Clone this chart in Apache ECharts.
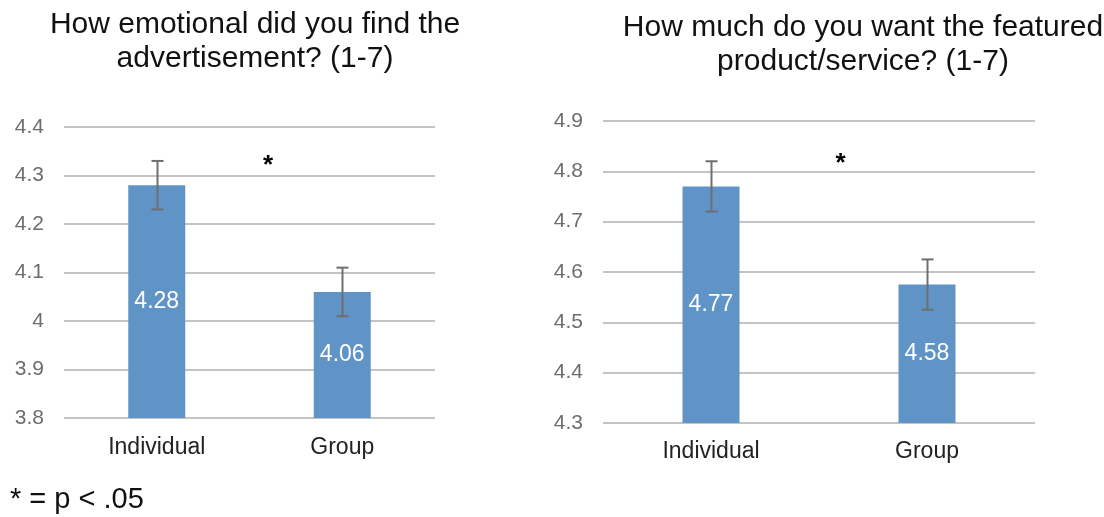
<!DOCTYPE html>
<html><head><meta charset="utf-8">
<script src="https://cdn.jsdelivr.net/npm/echarts@6/dist/echarts.min.js"></script>
<style>html,body{margin:0;padding:0;background:#fff}#c{width:1104px;height:517px}</style>
</head><body><div id="c"></div>
<script>
const categories = ['Individual', 'Group'];
const emotionalMeans = [4.28, 4.06];
const emotionalErr = [0.05, 0.05];
const wantMeans = [4.77, 4.575];
const wantErr = [0.05, 0.05];
const emotionalStar = [0.6, 4.33];
const wantStar = [0.6, 4.825];
const titles = ['How emotional did you find the\nadvertisement? (1-7)', 'How much do you want the featured\nproduct/service? (1-7)'];
const footnote = '* = p < .05';

const FONT = 'Liberation Sans, Arial, Helvetica, sans-serif';
const BAR = '#6094c7';
const ERR = '#6e6e6e';
const GRID = '#c4c4c4';

function yAxis(idx, min, max) {
  return {
    type: 'value', gridIndex: idx, min: min, max: max, interval: 0.1,
    axisLine: {show: false}, axisTick: {show: false},
    axisLabel: {color: '#6b6e6b', fontSize: 21, fontFamily: FONT, margin: 20},
    splitLine: {lineStyle: {color: GRID, width: 2}}
  };
}
function xAxis(idx, margin) {
  return {
    type: 'category', gridIndex: idx, data: categories,
    axisLine: {show: false}, axisTick: {show: false},
    axisLabel: {color: '#222', fontSize: 23, fontFamily: FONT, margin: margin}
  };
}
function barSeries(idx, vals) {
  return {
    type: 'bar', xAxisIndex: idx, yAxisIndex: idx, data: vals, barWidth: 57,
    itemStyle: {color: BAR},
    label: {show: true, position: 'inside', color: '#fff', fontSize: 23, fontFamily: FONT,
      formatter: p => p.value.toFixed(2)},
    silent: true
  };
}
function errSeries(idx, vals, errs) {
  return {
    type: 'custom', xAxisIndex: idx, yAxisIndex: idx, silent: true, z: 5,
    data: vals.map((v, i) => [i, v - errs[i], v + errs[i]]),
    renderItem: function (params, api) {
      const lo = api.coord([api.value(0), api.value(1)]);
      const hi = api.coord([api.value(0), api.value(2)]);
      const x = Math.round(lo[0]) + 0.5, hw = 6;
      const st = {stroke: ERR, lineWidth: 2};
      return {type: 'group', children: [
        {type: 'line', shape: {x1: x, y1: lo[1], x2: x, y2: hi[1]}, style: st},
        {type: 'line', shape: {x1: x - hw, y1: lo[1], x2: x + hw, y2: lo[1]}, style: st},
        {type: 'line', shape: {x1: x - hw, y1: hi[1], x2: x + hw, y2: hi[1]}, style: st}
      ]};
    }
  };
}
function starSeries(idx, star) {
  return {
    type: 'custom', xAxisIndex: idx, yAxisIndex: idx, silent: true, z: 6,
    data: [[0, 1, star[0], star[1]]],
    renderItem: function (params, api) {
      const a = api.coord([api.value(0), api.value(3)]);
      const b = api.coord([api.value(1), api.value(3)]);
      const f = api.value(2);
      return {type: 'text', x: a[0] + (b[0] - a[0]) * f, y: a[1] + 5,
        style: {text: '*', fill: '#000', font: 'bold 26px ' + FONT, align: 'center', verticalAlign: 'middle'}};
    }
  };
}

const chart = echarts.init(document.getElementById('c'));
chart.setOption({
  animation: false,
  backgroundColor: '#fff',
  title: [
    {text: titles[0], left: 250, top: 3, textAlign: 'center',
     textStyle: {fontSize: 30, fontWeight: 'normal', color: '#111', fontFamily: FONT, lineHeight: 34}},
    {text: titles[1], left: 858, top: 6, textAlign: 'center',
     textStyle: {fontSize: 30, fontWeight: 'normal', color: '#111', fontFamily: FONT, lineHeight: 34}}
  ],
  grid: [
    {left: 64, right: 669, top: 127, bottom: 99},
    {left: 603, right: 69, top: 121, bottom: 94}
  ],
  xAxis: [xAxis(0, 18), xAxis(1, 17)],
  yAxis: [yAxis(0, 3.8, 4.4), yAxis(1, 4.3, 4.9)],
  series: [
    barSeries(0, emotionalMeans), errSeries(0, emotionalMeans, emotionalErr), starSeries(0, emotionalStar),
    barSeries(1, wantMeans), errSeries(1, wantMeans, wantErr), starSeries(1, wantStar)
  ],
  graphic: [
    {type: 'text', left: 10, top: 485, style: {text: footnote, fill: '#111', font: '29px ' + FONT}}
  ]
});
</script></body></html>
